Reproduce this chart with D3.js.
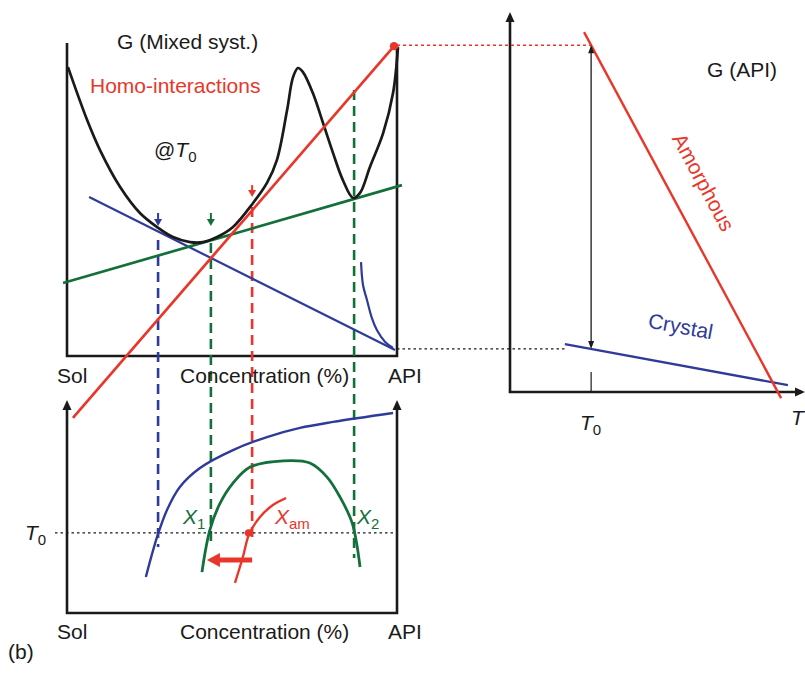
<!DOCTYPE html>
<html><head><meta charset="utf-8">
<script src="https://cdn.jsdelivr.net/npm/d3@7"></script>
<style>
body{margin:0;background:#fff}
text{font-family:"Liberation Sans",Arial,Helvetica,sans-serif}
</style>
</head><body>
<svg id="fig" width="805" height="674"></svg>
<script>
// ---- Free energy of the mixed system at T0: [concentration %, G]
const gMixed = [[0.3,92.3],[6.1,75.4],[10.0,65.8],[16.1,54.0],[22.1,45.7],[27.3,41.2],[32.1,38.0],
  [37.3,36.4],[41.2,36.4],[45.5,38.0],[50.3,41.2],[56.4,48.9],[60.6,55.3],[63.6,62.6],[66.7,78.6],
  [68.5,89.1],[70.0,92.0],[71.5,90.7],[74.5,84.0],[77.6,74.4],[80.6,64.9],[83.6,56.2],[86.7,50.5],
  [88.8,52.1],[91.8,60.4],[95.8,71.2],[98.8,84.0],[100.3,98.7]];
// common tangents
const tangentCrystal = [[6.7,50.8],[99.4,1.9]];
const tangentLL = [[-1.2,23.3],[101.5,54.6]];
const tangentAmorph = [[1.8,-19.8],[99.1,99.0]];
// crystalline API branch near the API side
const crystalBranch = [[89.1,30.0],[89.7,22.7],[90.9,17.9],[92.4,12.1],[93.9,8.3],[96.4,4.5],[98.8,2.6]];
// tie lines: concentration, G at top end, T at bottom end, colour key
const tieConc = [27.6, 43.6, 56.1, 87.0];
const tieG = [37.1, 36.1, 47.6, 85.0];
const tieT = [31.0, 31.9, 35.7, 25.8];
const tieKey = ["blue","green","red","green"];
// tangent markers: concentration, G at shaft top, G at tip
const markConc = [27.6, 43.6, 56.1];
const markTop = [45.7, 45.7, 54.6];
const markTip = [41.5, 41.5, 50.8];
const markKey = ["blue","green","red"];

// ---- Phase diagram: [concentration %, T]
const liquidus = [[23.9,16.9],[27.3,35.7],[30.3,48.4],[34.2,59.2],[40.3,68.1],[50.3,76.5],[60.6,82.6],
  [70.6,86.9],[80.6,89.7],[98.8,93.9]];
const binodal = [[40.9,19.2],[43.3,39.0],[46.4,51.6],[50.3,61.0],[55.5,68.5],[65.5,71.4],[73.6,70.4],
  [78.8,63.8],[82.7,54.5],[86.4,42.3],[88.8,21.6]];
const amorphLimit = [[50.9,14.1],[53.3,26.3],[55.2,37.1],[58.5,45.1],[62.4,50.7],[66.4,54.0]];
const T0level = 37.6;
const shiftArrow = [[56.1,24.9],[42.4,24.9]];

// ---- G of pure API versus T
const gAmorphous = [[25.1,94.7],[91.9,-1.6]];
const gCrystal = [[18.6,12.6],[94.2,1.8]];
const T0 = 27.5;

const col = {red:"#e8372a", blue:"#2e3b98", green:"#13703a", black:"#1a1a1a"};
const FS = 21, SUB = 15;

const svg = d3.select("#fig");
const xA = d3.scaleLinear([0,100],[67,397]);
const yA = d3.scaleLinear([0,100],[356,43]);
const xB = d3.scaleLinear([0,100],[67,397]);
const yB = d3.scaleLinear([0,100],[613,400]);
const xC = d3.scaleLinear([0,100],[510,805]);
const yC = d3.scaleLinear([0,100],[392,12]);

const lineA = d3.line().x(d=>xA(d[0])).y(d=>yA(d[1]));
const curveA = d3.line().x(d=>xA(d[0])).y(d=>yA(d[1])).curve(d3.curveCatmullRom.alpha(0.5));
const curveB = d3.line().x(d=>xB(d[0])).y(d=>yB(d[1])).curve(d3.curveCatmullRom.alpha(0.5));
const lineC = d3.line().x(d=>xC(d[0])).y(d=>yC(d[1]));

function head(x, y, ang, len, w, color){
  // filled triangular arrowhead with tip at (x,y) pointing along ang (radians)
  const c=Math.cos(ang), s=Math.sin(ang);
  const bx=x-c*len, by=y-s*len;
  svg.append("path").attr("d",`M${x},${y}L${bx - s*w/2},${by + c*w/2}L${bx + s*w/2},${by - c*w/2}Z`)
    .attr("fill",color||col.black);
}
function label(x,y,txt,color,opts){
  const t = svg.append("text").attr("x",x).attr("y",y).attr("font-size",FS).attr("fill",color||col.black);
  if(opts&&opts.italic) t.attr("font-style","italic");
  t.text(txt);
  return t;
}
function sub(x,y,main,s,color,lead){
  const t = svg.append("text").attr("x",x).attr("y",y).attr("font-size",FS).attr("fill",color||col.black);
  if(lead) t.append("tspan").text(lead);
  t.append("tspan").attr("font-style","italic").text(main);
  t.append("tspan").attr("font-size",SUB).attr("dy",5).text(s);
}

// ===== Top-left panel: frame
const ax = svg.append("g").attr("fill","none").attr("stroke",col.black).attr("stroke-width",2.6);
ax.append("path").attr("d",`M${xA(0)},${yA(100)}V${yA(0)}H${xA(100)}V${yA(99.4)}`);

// dotted projections to the pure-API diagram
const gAmT0 = gAmorphous[0][1] + (T0-gAmorphous[0][0])*(gAmorphous[1][1]-gAmorphous[0][1])/(gAmorphous[1][0]-gAmorphous[0][0]);
const gCrT0 = gCrystal[0][1] + (T0-gCrystal[0][0])*(gCrystal[1][1]-gCrystal[0][1])/(gCrystal[1][0]-gCrystal[0][0]);
svg.append("line").attr("x1",xA(100)).attr("x2",xC(T0)).attr("y1",yC(gAmT0)).attr("y2",yC(gAmT0))
  .attr("stroke",col.red).attr("stroke-width",1.4).attr("stroke-dasharray","3,3");
svg.append("line").attr("x1",xA(100)).attr("x2",xC(gCrystal[0][0])).attr("y1",yC(gCrT0)).attr("y2",yC(gCrT0))
  .attr("stroke",col.black).attr("stroke-width",1.3).attr("stroke-dasharray","2.5,3");

// tie lines (dashed), from the top diagram down into the phase diagram
tieConc.forEach((c,i)=>{
  svg.append("line").attr("x1",xA(c)).attr("x2",xB(c)).attr("y1",yA(tieG[i])).attr("y2",yB(tieT[i]))
    .attr("stroke",col[tieKey[i]]).attr("stroke-width",2.6).attr("stroke-dasharray","10,6");
});

// tangents and the G curve
svg.append("path").attr("d",lineA(tangentCrystal)).attr("fill","none").attr("stroke",col.blue).attr("stroke-width",2.2);
svg.append("path").attr("d",lineA(tangentLL)).attr("fill","none").attr("stroke",col.green).attr("stroke-width",2.7);
svg.append("path").attr("d",curveA(gMixed)).attr("fill","none").attr("stroke",col.black).attr("stroke-width",2.7);
svg.append("path").attr("d",curveA(crystalBranch)).attr("fill","none").attr("stroke",col.blue).attr("stroke-width",2.2);
svg.append("path").attr("d",lineA(tangentAmorph)).attr("fill","none").attr("stroke",col.red).attr("stroke-width",2.7);
svg.append("circle").attr("cx",xA(tangentAmorph[1][0])).attr("cy",yA(tangentAmorph[1][1])).attr("r",4.2).attr("fill",col.red);

// small tangent-point markers
markConc.forEach((c,i)=>{
  const x=xA(c), yt=yA(markTop[i]), yp=yA(markTip[i]);
  svg.append("line").attr("x1",x).attr("x2",x).attr("y1",yt).attr("y2",yp-5)
    .attr("stroke",col[markKey[i]]).attr("stroke-width",2);
  head(x, yp, Math.PI/2, 7, 8, col[markKey[i]]);
});

// texts top-left
label(117,49,"G (Mixed syst.)");
label(90,93,"Homo-interactions",col.red);
sub(154,157,"T","0",col.black,"@");
[["Sol",57],["Concentration (%)",180],["API",388]].forEach(([t,x])=>label(x,383,t));

// ===== Bottom-left panel: phase diagram
ax.append("path").attr("d",`M${xB(0)},${yB(97)}V${yB(0)}H${xB(100)}V${yB(97)}`);
head(xB(0), yB(100), -Math.PI/2, 10, 9);
head(xB(100), yB(100), -Math.PI/2, 10, 9);

svg.append("line").attr("x1",55).attr("x2",xB(99)).attr("y1",yB(T0level)).attr("y2",yB(T0level))
  .attr("stroke",col.black).attr("stroke-width",1.3).attr("stroke-dasharray","2.5,3");

svg.append("path").attr("d",curveB(liquidus)).attr("fill","none").attr("stroke",col.blue).attr("stroke-width",2.4);
svg.append("path").attr("d",curveB(binodal)).attr("fill","none").attr("stroke",col.green).attr("stroke-width",2.8);
svg.append("path").attr("d",curveB(amorphLimit)).attr("fill","none").attr("stroke",col.red).attr("stroke-width",2.4);
svg.append("circle").attr("cx",xB(55.0)).attr("cy",yB(T0level)).attr("r",3.6).attr("fill",col.red);

// shift arrow
{
  const [a,b] = shiftArrow;
  svg.append("line").attr("x1",xB(a[0])).attr("x2",xB(b[0])+10).attr("y1",yB(a[1])).attr("y2",yB(b[1]))
    .attr("stroke",col.red).attr("stroke-width",5);
  head(xB(b[0]), yB(b[1]), Math.PI, 13, 14, col.red);
}

// labels bottom-left
sub(25,540,"T","0");
sub(183,524,"X","1",col.green);
sub(275,524,"X","am",col.red);
sub(357,524,"X","2",col.green);
[["Sol",57],["Concentration (%)",180],["API",388]].forEach(([t,x])=>label(x,639,t));
label(8,659,"(b)");

// ===== Right panel: G of pure API
ax.append("path").attr("d",`M${xC(0)},${yC(100)+8}V${yC(0)}H${xC(100)-8}`);
head(xC(0), yC(100), -Math.PI/2, 10, 9);
head(xC(100), yC(0), 0, 10, 9);
svg.append("line").attr("x1",xC(T0)).attr("x2",xC(T0)).attr("y1",yC(0)-20).attr("y2",yC(0))
  .attr("stroke",col.black).attr("stroke-width",1.2);

svg.append("path").attr("d",lineC(gCrystal)).attr("fill","none").attr("stroke",col.blue).attr("stroke-width",2.4);
svg.append("path").attr("d",lineC(gAmorphous)).attr("fill","none").attr("stroke",col.red).attr("stroke-width",2.4);

// double arrow between the amorphous and crystalline G at T0
{
  const x=xC(T0), y1=yC(gAmT0), y2=yC(gCrT0);
  svg.append("line").attr("x1",x).attr("x2",x).attr("y1",y1+6).attr("y2",y2-6).attr("stroke",col.black).attr("stroke-width",1.3);
  head(x, y1, -Math.PI/2, 8, 6);
  head(x, y2, Math.PI/2, 8, 6);
}

label(707,77,"G (API)");
{
  const p0=[xC(gAmorphous[0][0]),yC(gAmorphous[0][1])], p1=[xC(gAmorphous[1][0]),yC(gAmorphous[1][1])];
  const ang = Math.atan2(p1[1]-p0[1],p1[0]-p0[0])*180/Math.PI;
  svg.append("text").attr("transform",`translate(${xC(63.4)},${yC(54.3)}) rotate(${ang})`)
    .attr("text-anchor","middle").attr("font-size",FS).attr("fill",col.red).text("Amorphous");
  const q0=[xC(gCrystal[0][0]),yC(gCrystal[0][1])], q1=[xC(gCrystal[1][0]),yC(gCrystal[1][1])];
  const ang2 = Math.atan2(q1[1]-q0[1],q1[0]-q0[0])*180/Math.PI;
  svg.append("text").attr("transform",`translate(${xC(57.4)},${yC(15.4)}) rotate(${ang2})`)
    .attr("text-anchor","middle").attr("font-size",FS).attr("fill",col.blue).text("Crystal");
}
sub(580,430,"T","0");
label(791,425,"T",col.black,{italic:true});
</script>
</body></html>
